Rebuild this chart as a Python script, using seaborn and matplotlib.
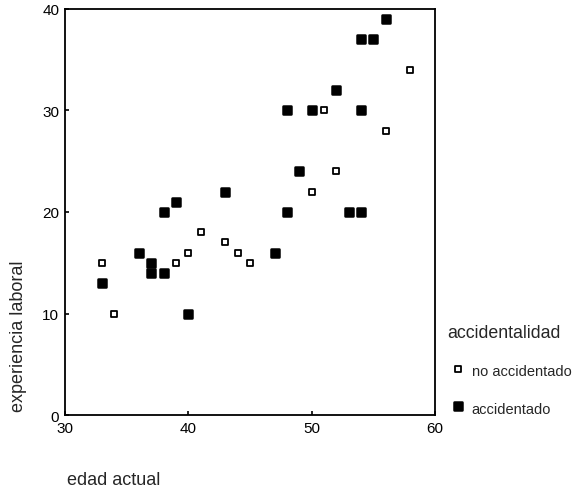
import matplotlib
matplotlib.use("Agg")
import matplotlib.pyplot as plt
import seaborn as sns
import pandas as pd

sns.set_style("white")
plt.rcParams['font.family'] = ['Liberation Sans', 'DejaVu Sans']

# no accidentado (open squares)
edad_no = [33, 34, 39, 40, 41, 43, 44, 45, 50, 51, 52, 56, 58]
exp_no = [15, 10, 15, 16, 18, 17, 16, 15, 22, 30, 24, 28, 34]
# accidentado (filled)
edad_si = [33, 36, 37, 37, 38, 38, 39, 40, 43, 47, 48, 48, 49, 50, 52, 53, 54, 54, 54, 55, 56]
exp_si = [13, 16, 15, 14, 14, 20, 21, 10, 22, 16, 30, 20, 24, 30, 32, 20, 20, 30, 37, 37, 39]

grupo_labels = ["no accidentado", "accidentado"]

df = pd.DataFrame({
    "edad actual": edad_no + edad_si,
    "experiencia laboral": exp_no + exp_si,
    "accidentalidad": [grupo_labels[0]] * len(edad_no) + [grupo_labels[1]] * len(edad_si),
})

fig = plt.figure(figsize=(5.74, 4.89), dpi=100)
ax = fig.add_axes([0.113, 0.149, 0.645, 0.831])

d0 = df[df["accidentalidad"] == grupo_labels[0]]
d1 = df[df["accidentalidad"] == grupo_labels[1]]
sns.scatterplot(data=d0, x="edad actual", y="experiencia laboral", ax=ax,
                marker="s", s=24, facecolor="white", edgecolor="black",
                linewidth=1.3, legend=False, zorder=3)
sns.scatterplot(data=d1, x="edad actual", y="experiencia laboral", ax=ax,
                marker="s", s=38, color="black", edgecolor="black",
                linewidth=1.8, legend=False, zorder=3)
for c in ax.collections[1:]:
    c.set_joinstyle("round")

ax.set_xlim(30, 60)
ax.set_ylim(0, 40)
ax.set_xticks([30, 40, 50, 60])
ax.set_yticks([0, 10, 20, 30, 40])
ax.tick_params(axis="both", direction="in", length=3, width=1.2, labelsize=11,
               colors="black", pad=4, left=True, bottom=True)
for sp in ax.spines.values():
    sp.set_visible(True)
    sp.set_color("black")
    sp.set_linewidth(1.3)
ax.set_xlabel("")
ax.set_ylabel("")

fig.text(0.117, 0.018, "edad actual", fontsize=13, ha="left", va="center")
fig.text(0.033, 0.313, "experiencia laboral", fontsize=13, rotation=90,
         ha="center", va="center")

fig.text(0.779, 0.319, "accidentalidad", fontsize=12.8, ha="left", va="center")
fig.text(0.822, 0.239, grupo_labels[0], fontsize=10.5, ha="left", va="center")
fig.text(0.822, 0.162, grupo_labels[1], fontsize=10.5, ha="left", va="center")
ax.scatter([458 / 574], [1 - 370 / 489], transform=fig.transFigure, clip_on=False,
           marker="s", s=24, facecolor="white", edgecolor="black", linewidth=1.3)
lg = ax.scatter([458 / 574], [1 - 407 / 489], transform=fig.transFigure, clip_on=False,
                marker="s", s=38, color="black", linewidth=1.8)
lg.set_joinstyle("round")

fig.savefig("out.png", dpi=100)
